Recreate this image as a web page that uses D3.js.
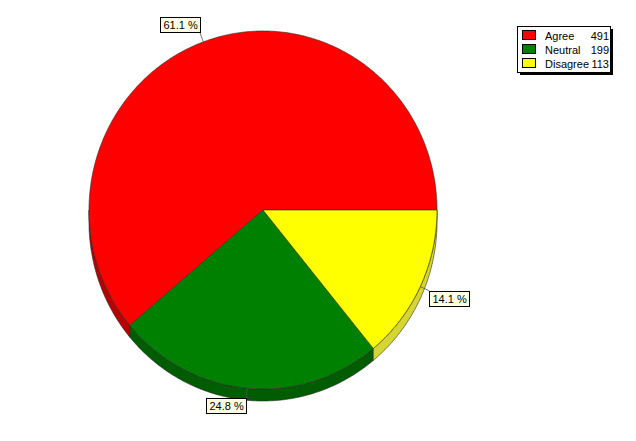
<!DOCTYPE html>
<html><head><meta charset="utf-8">
<script src="https://cdn.jsdelivr.net/npm/d3@7"></script>
<style>body{margin:0;background:#fff}svg{display:block}</style>
</head><body>
<svg id="c" width="636" height="441"></svg>
<script>
const categories = ["Agree", "Neutral", "Disagree"];
const values = [491, 199, 113];
const percentLabels = ["61.1 %", "24.8 %", "14.1 %"];
const topColors = ["#ff0000", "#008000", "#ffff00"];
const sideColors = ["#b80000", "#005c00", "#d6d632"];

const svg = d3.select("#c");
const W = 636, H = 441;
const cx = 263, cy = 210, rx = 174, ry = 179, depth = 12;
const font = "Liberation Sans, Arial, sans-serif";

const pie = d3.pie().sort(null).startAngle(Math.PI / 2).endAngle(Math.PI / 2 - 2 * Math.PI);
const arcs = pie(values);

const px = a => cx + rx * Math.sin(a);
const py = a => cy - ry * Math.cos(a);

function samples(a0, a1) {
  const n = Math.max(2, Math.ceil(Math.abs(a1 - a0) / 0.01));
  return d3.range(n + 1).map(i => a0 + (a1 - a0) * i / n);
}
const line = d3.line();

// sides (lower half)
const gSide = svg.append("g");
arcs.forEach((d, i) => {
  const lo = Math.min(d.startAngle, d.endAngle), hi = Math.max(d.startAngle, d.endAngle);
  [[-1.5 * Math.PI, -0.5 * Math.PI], [0.5 * Math.PI, 1.5 * Math.PI]].forEach(([a, b]) => {
    const s = Math.max(lo, a), e = Math.min(hi, b);
    if (e - s > 1e-4) {
      const ang = samples(s, e);
      const topPts = ang.map(t => [px(t), py(t)]);
      const botPts = ang.slice().reverse().map(t => [px(t), py(t) + depth]);
      gSide.append("path")
        .attr("d", line(topPts.concat(botPts)) + "Z")
        .attr("fill", sideColors[i])
        .attr("stroke", "#2a2a2a").attr("stroke-width", 0.6).attr("stroke-linejoin", "round");
    }
  });
});

// top faces
const gTop = svg.append("g");
arcs.forEach((d, i) => {
  const ang = samples(d.startAngle, d.endAngle);
  const pts = [[cx, cy]].concat(ang.map(t => [px(t), py(t)]));
  gTop.append("path")
    .attr("d", line(pts) + "Z")
    .attr("fill", topColors[i])
    .attr("stroke", "#2a2a2a").attr("stroke-width", 0.6).attr("stroke-linejoin", "round");
});

// labels
const gLab = svg.append("g");
arcs.forEach((d, i) => {
  const m = (d.startAngle + d.endAngle) / 2;
  const ax = px(m), ay = py(m);
  const dx = Math.sin(m), dy = -Math.cos(m);
  const cxr = ax + dx * 10, cyr = ay + dy * 10;
  const t = gLab.append("text").text(percentLabels[i])
    .attr("font-family", font).attr("font-size", 11).attr("fill", "#000");
  const bb = t.node().getBBox();
  const bw = Math.round(bb.width + 6), bh = 15;
  const bx = dx < 0 ? cxr - bw : cxr;
  const by = dy < 0 ? cyr - bh : cyr;
  gLab.insert("line", "text").attr("x1", ax).attr("y1", ay).attr("x2", cxr).attr("y2", cyr)
    .attr("stroke", "#555").attr("stroke-width", 0.8);
  gLab.insert("rect", "text").attr("x", Math.round(bx) + 0.5).attr("y", Math.round(by) + 0.5)
    .attr("width", bw).attr("height", bh)
    .attr("fill", "#ffffe6").attr("stroke", "#000").attr("stroke-width", 1);
  t.attr("x", Math.round(bx) + 3.5).attr("y", Math.round(by) + 11.5);
});

// legend
const lg = svg.append("g");
const lx = 517, ly = 26, lw = 93, lh = 46;
lg.append("rect").attr("x", lx + 3).attr("y", ly + 3).attr("width", lw).attr("height", lh).attr("fill", "#000");
lg.append("rect").attr("x", lx + 0.5).attr("y", ly + 0.5).attr("width", lw).attr("height", lh)
  .attr("fill", "#fff").attr("stroke", "#000");
const rowY = d3.scalePoint().domain(categories).range([ly + 4, ly + 32]);
categories.forEach((c, i) => {
  const y = rowY(c);
  lg.append("rect").attr("x", 522.5).attr("y", y + 0.5).attr("width", 13).attr("height", 9)
    .attr("fill", topColors[i]).attr("stroke", "#000");
  lg.append("text").attr("x", 545).attr("y", y + 9.5).text(c)
    .attr("font-family", font).attr("font-size", 11).attr("fill", "#000");
  lg.append("text").attr("x", 609).attr("y", y + 9.5).attr("text-anchor", "end").text(values[i])
    .attr("font-family", font).attr("font-size", 11).attr("fill", "#000");
});
</script>
</body></html>
